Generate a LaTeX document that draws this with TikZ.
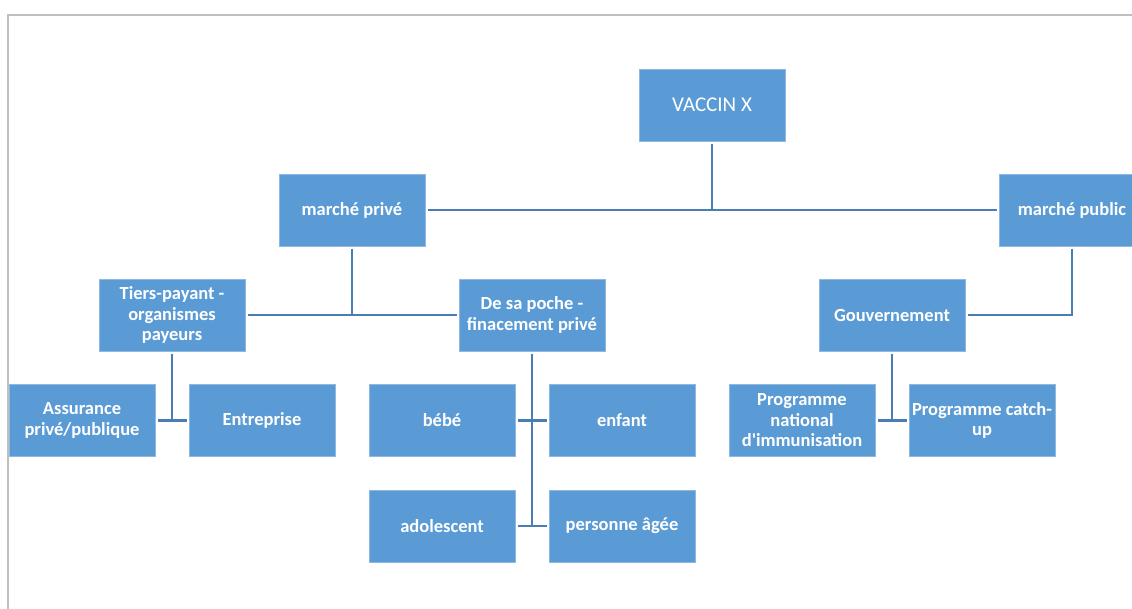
\documentclass[tikz,border=0pt]{standalone}
\usepackage{fontspec}
\setmainfont{Carlito}
\definecolor{boxblue}{HTML}{5B9BD5}
\definecolor{boxedge}{HTML}{8DB9E3}
\definecolor{linkblue}{HTML}{4A7DB4}
\definecolor{framegray}{HTML}{BFBFBF}
\begin{document}
\begin{tikzpicture}[x=1pt,y=-1pt,
  orgbox/.style={rectangle, fill=boxblue, draw=boxedge, line width=0.8pt,
    minimum width=146pt, minimum height=72pt, inner sep=0pt, outer sep=2.5pt,
    align=center, text=white, font=\bfseries\fontsize{18.5}{20.5}\selectfont},
  topbox/.style={orgbox, font=\fontsize{21}{24}\selectfont},
  link/.style={draw=linkblue, line width=2.6pt}]
\useasboundingbox (0,0) rectangle (1132,608);
\clip (0,0) rectangle (1132,608);
% page frame
\draw[framegray, line width=2pt] (1140,14.5) -- (7.5,14.5) -- (7.5,620);

% boxes
\node[topbox] (vac) at (712,105) {VACCIN X};
\node[orgbox] (priv) at (352,210) {march\'e priv\'e};
\node[orgbox] (pub) at (1072,210) {march\'e public};
\node[orgbox] (trs) at (172,315) {Tiers-payant -\\organismes\\payeurs};
\node[orgbox] (poc) at (532,315) {De sa poche -\\finacement priv\'e};
\node[orgbox] (gov) at (892,315) {Gouvernement};
\node[orgbox] (ass) at (82,420.5) {Assurance\\priv\'e/publique};
\node[orgbox] (ent) at (262,420.5) {Entreprise};
\node[orgbox] (beb) at (442,420.5) {b\'eb\'e};
\node[orgbox] (enf) at (622,420.5) {enfant};
\node[orgbox] (ado) at (442,526) {adolescent};
\node[orgbox] (pag) at (622,526) {personne \^ag\'ee};
\node[orgbox] (pni) at (802,420.5) {Programme\\national\\d\textquotesingle immunisation};
\node[orgbox] (pcu) at (982,420.5) {Programme catch-\\up};

% connectors
\draw[link] (priv.east) -- (pub.west);
\draw[link] (vac.south) -- (vac.south |- priv.east);
\draw[link] (pub.south) |- (gov.east);
\draw[link] (trs.east) -- (poc.west);
\draw[link] (priv.south) -- (priv.south |- trs.east);
\draw[link] (ass.east) -- (ent.west);
\draw[link] (trs.south) -- (trs.south |- ass.east);
\draw[link] (beb.east) -- (enf.west);
\draw[link] (ado.east) -- (pag.west);
\draw[link] (poc.south) -- (poc.south |- ado.east);
\draw[link] (pni.east) -- (pcu.west);
\draw[link] (gov.south) -- (gov.south |- pni.east);
\end{tikzpicture}
\end{document}
